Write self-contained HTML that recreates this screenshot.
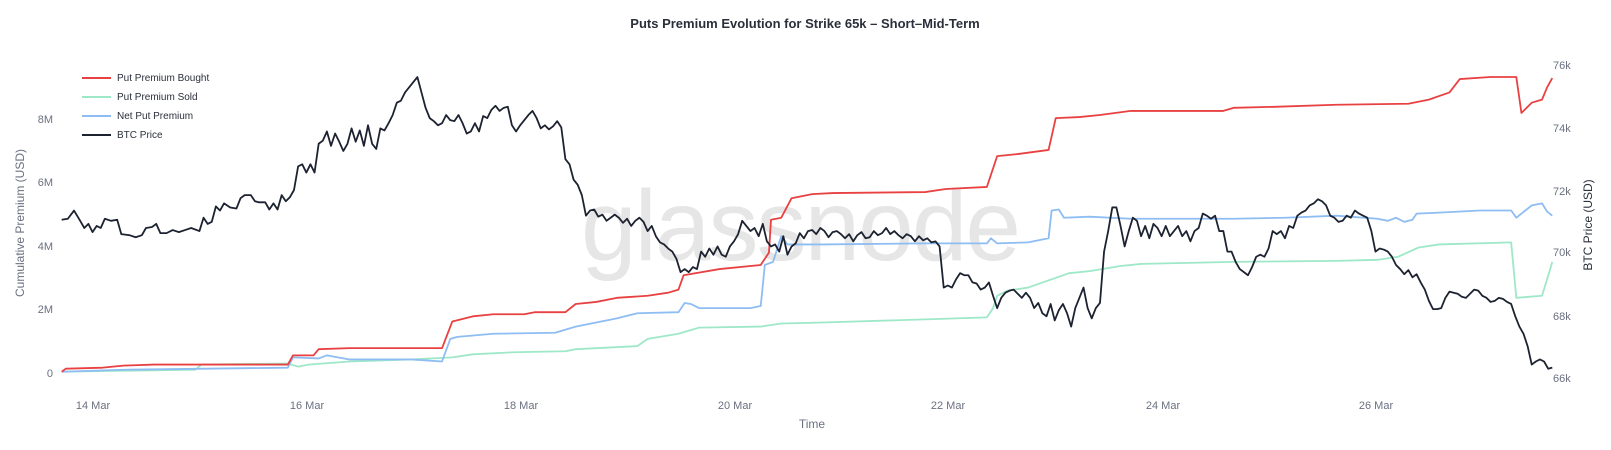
<!DOCTYPE html>
<html><head><meta charset="utf-8"><style>
html,body{margin:0;padding:0;background:#fff;}
svg{display:block;font-family:"Liberation Sans",Arial,sans-serif;}
</style></head><body>
<svg width="1611" height="450" viewBox="0 0 1611 450">
<rect width="1611" height="450" fill="#fff"/>
<text x="805" y="28" text-anchor="middle" font-size="13" font-weight="bold" fill="#2a2f3a">Puts Premium Evolution for Strike 65k – Short–Mid-Term</text>
<text x="800" y="260" text-anchor="middle" font-size="100" fill="#e6e6e6" letter-spacing="-2">glassnode</text>
<g font-size="11" fill="#6b7080">
<text x="53" y="377" text-anchor="end">0</text>
<text x="53" y="313" text-anchor="end">2M</text>
<text x="53" y="250" text-anchor="end">4M</text>
<text x="53" y="186" text-anchor="end">6M</text>
<text x="53" y="123" text-anchor="end">8M</text>
<text x="1553" y="69">76k</text>
<text x="1553" y="132">74k</text>
<text x="1553" y="195">72k</text>
<text x="1553" y="256">70k</text>
<text x="1553" y="320">68k</text>
<text x="1553" y="382">66k</text>
<text x="93" y="409" text-anchor="middle">14 Mar</text>
<text x="307" y="409" text-anchor="middle">16 Mar</text>
<text x="521" y="409" text-anchor="middle">18 Mar</text>
<text x="735" y="409" text-anchor="middle">20 Mar</text>
<text x="948" y="409" text-anchor="middle">22 Mar</text>
<text x="1163" y="409" text-anchor="middle">24 Mar</text>
<text x="1376" y="409" text-anchor="middle">26 Mar</text>
</g>
<text x="812" y="428" text-anchor="middle" font-size="12" fill="#6b7080">Time</text>
<text transform="translate(24,223) rotate(-90)" text-anchor="middle" font-size="12" fill="#6b7080">Cumulative Premium (USD)</text>
<text transform="translate(1592,225) rotate(-90)" text-anchor="middle" font-size="12" fill="#2a2f3a">BTC Price (USD)</text>
<g font-size="10" fill="#2a2f3a">
<line x1="82" y1="78" x2="111" y2="78" stroke="#e84142" stroke-width="2"/><text x="117" y="81">Put Premium Bought</text>
<line x1="82" y1="97" x2="111" y2="97" stroke="#9ee8c8" stroke-width="2"/><text x="117" y="100">Put Premium Sold</text>
<line x1="82" y1="116" x2="111" y2="116" stroke="#8dbdf2" stroke-width="2"/><text x="117" y="119">Net Put Premium</text>
<line x1="82" y1="135" x2="111" y2="135" stroke="#1c2230" stroke-width="2"/><text x="117" y="138">BTC Price</text>
</g>
<g transform="scale(1.028,1.027)" fill="none" stroke-width="1.8" stroke-linejoin="round">
<polyline vector-effect="non-scaling-stroke" stroke="#9ee8c8" points="60,362 120,361 190,360 196,355 280,354 290,357 300,355 340,352 400,350 440,348 460,345 500,343 550,342 560,340 620,337 630,330 660,325 680,319 740,318 760,315 800,314 900,311 960,309 966,300 970,288 980,283 1000,280 1040,266 1060,264 1090,259 1110,257 1200,255 1300,254 1340,253 1360,250 1380,241 1400,238 1470,236 1475,290 1500,288 1508,262 1510,255"/>
<polyline vector-effect="non-scaling-stroke" stroke="#8dbdf2" points="60,362 120,360 280,358 285,348 310,349 318,346 340,350 400,350 430,352 438,330 445,328 480,325 540,324 560,318 580,314 600,310 620,305 660,304 666,295 672,296 680,300 720,300 730,300 740,298 744,258 752,255 760,230 766,238 800,238 900,237 960,237 964,232 970,237 1000,236 1020,232 1023,205 1030,204 1035,212 1060,211 1100,213 1200,213 1250,212 1300,210 1340,213 1350,215 1358,212 1366,216 1374,214 1378,208 1400,207 1440,205 1470,205 1475,212 1490,200 1500,198 1505,206 1510,210"/>
<polyline vector-effect="non-scaling-stroke" stroke="#e84142" points="60,362 64,359 100,358 120,356 150,355 280,355 285,346 305,346 310,340 340,339 430,339 440,313 460,308 480,306 510,306 520,304 550,304 560,296 580,294 600,290 630,288 650,285 660,282 665,268 700,262 740,258 748,246 750,214 760,212 770,193 790,189 810,188 900,187 920,184 960,182 970,152 990,150 1020,146 1027,115 1050,114 1070,112 1100,108 1190,108 1200,105 1240,104 1300,102 1370,101 1390,97 1410,90 1420,77 1450,75 1475,75 1480,110 1490,100 1500,97 1505,85 1510,76"/>
<polyline vector-effect="non-scaling-stroke" stroke="#1c2230" points="60,214 66,213 72,205 78,215 82,222 86,218 90,226 94,220 98,222 102,213 108,215 114,214 118,228 126,229 132,231 138,229 142,222 148,221 152,218 156,227 162,227 168,224 174,226 180,224 186,222 194,225 198,212 202,218 206,216 210,201 214,205 218,198 224,202 230,203 234,193 238,190 244,190 248,196 252,197 258,197 262,204 266,198 270,204 274,190 278,196 282,192 286,185 290,162 294,160 298,168 302,160 306,168 310,140 314,137 318,128 322,142 326,130 330,138 334,147 338,140 342,125 346,138 350,127 354,142 358,122 362,140 366,145 370,125 374,127 378,120 382,112 386,100 390,98 394,90 398,85 402,80 406,75 410,90 414,105 418,115 422,118 426,122 430,120 434,112 438,117 442,118 446,112 450,120 454,130 458,128 462,120 466,128 470,113 474,115 478,107 482,103 486,108 490,105 494,104 498,122 502,128 506,122 510,117 514,112 518,108 522,115 526,125 530,122 534,126 538,123 542,118 546,124 550,155 554,160 558,175 562,180 566,190 570,210 574,205 578,204 582,211 586,209 590,215 594,212 598,209 602,212 606,217 610,213 614,220 618,215 622,212 626,216 630,225 634,220 638,230 642,236 646,238 650,242 654,245 658,252 662,265 666,262 670,265 674,260 678,262 682,245 686,250 690,242 694,248 698,240 702,248 706,250 710,240 714,235 718,228 722,215 726,220 730,225 734,222 738,230 742,218 746,235 750,240 754,238 758,245 762,230 766,248 770,240 774,237 778,227 782,232 786,225 790,224 794,228 798,222 802,225 806,231 810,226 814,225 818,228 822,232 826,228 830,235 834,229 838,226 842,232 846,231 850,225 854,229 858,227 862,222 866,228 870,225 874,229 878,232 882,228 886,230 890,235 894,230 898,234 902,232 906,236 910,235 914,240 918,280 922,278 926,280 930,272 934,266 938,268 942,268 946,275 950,276 954,282 958,280 962,275 966,288 970,300 974,290 978,285 982,283 986,282 990,286 994,290 998,285 1002,290 1006,300 1010,295 1014,305 1018,308 1022,296 1026,312 1030,302 1034,296 1038,305 1042,318 1046,300 1050,290 1054,280 1058,300 1062,310 1066,300 1070,295 1074,245 1078,225 1082,202 1086,202 1090,220 1094,240 1098,225 1102,212 1106,215 1110,230 1114,220 1118,232 1122,218 1126,222 1130,230 1134,220 1138,230 1142,225 1146,220 1150,230 1154,225 1158,235 1162,225 1166,222 1170,208 1174,210 1178,213 1182,210 1186,225 1190,225 1194,245 1198,245 1202,255 1206,262 1210,265 1214,268 1218,260 1222,250 1226,248 1230,250 1234,242 1238,225 1242,228 1246,225 1250,232 1254,220 1258,222 1262,210 1266,207 1270,205 1274,200 1278,198 1282,194 1286,196 1290,200 1294,210 1298,212 1302,216 1306,215 1310,210 1314,212 1318,205 1322,208 1326,210 1330,212 1334,225 1338,245 1342,242 1346,243 1350,245 1354,250 1358,258 1362,262 1366,267 1370,263 1374,270 1378,267 1382,275 1386,282 1390,293 1394,301 1398,301 1402,300 1406,290 1410,284 1414,285 1418,286 1422,289 1426,290 1430,286 1434,282 1438,283 1442,288 1446,290 1450,294 1454,293 1458,290 1462,291 1466,294 1470,296 1474,308 1478,318 1482,325 1486,337 1490,355 1494,352 1498,350 1502,352 1506,359 1510,358"/>
</g>
</svg>
</body></html>
